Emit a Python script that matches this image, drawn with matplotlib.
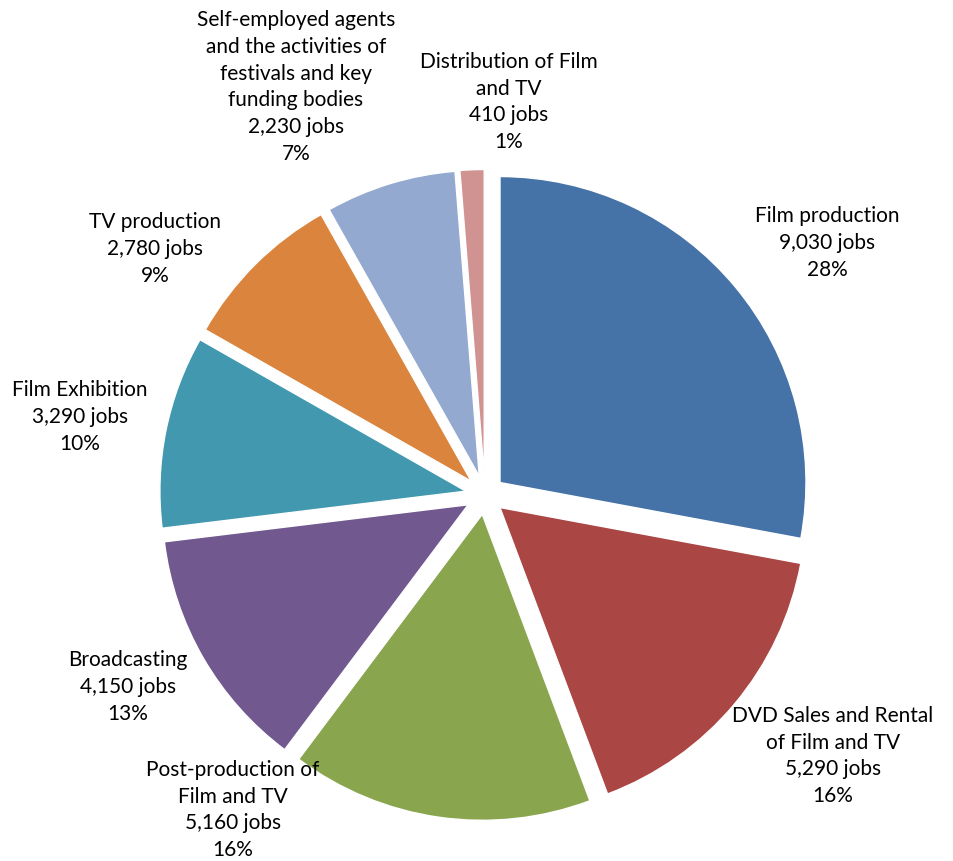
import matplotlib.pyplot as plt

# jobs by sub-sector, clockwise from 12 o'clock
sectors = ['Film production', 'DVD Sales and Rental\nof Film and TV', 'Post-production of\nFilm and TV',
           'Broadcasting', 'Film Exhibition', 'TV production',
           'Self-employed agents\nand the activities of\nfestivals and key\nfunding bodies',
           'Distribution of Film\nand TV']
jobs = [9030, 5290, 5160, 4150, 3290, 2780, 2230, 410]
colors = ['#4572A7', '#AA4643', '#89A54E', '#71588F', '#4198AF', '#DB843D', '#93A9CF', '#D19392']

# where each data label sits (axes units, pie radius ~ 1)
label_pos = [(1.14, 0.84), (1.16, -0.87), (-0.84, -1.05), (-1.19, -0.64), (-1.35, 0.26),
             (-1.10, 0.82), (-0.63, 1.36), (0.08, 1.31)]

plt.rcParams['font.family'] = ['Lato', 'DejaVu Sans']

fig = plt.figure(figsize=(9.54, 8.61), dpi=100)
ax = fig.add_axes([0, 0, 1, 1])

ax.pie(jobs, colors=colors, startangle=90, counterclock=False,
       explode=[0.065] * len(jobs), radius=1.02,
       wedgeprops=dict(edgecolor='white', linewidth=1))

total = sum(jobs)
for name, n, (x, y) in zip(sectors, jobs, label_pos):
    txt = f'{name}\n{n:,} jobs\n{round(100 * n / total)}%'
    ax.text(x, y, txt, ha='center', va='center', fontsize=15,
            linespacing=1.42, color='black')

# centre of pie at (485, 495) px, 300 px per unit
ax.set_xlim(-485 / 300, (954 - 485) / 300)
ax.set_ylim(-(861 - 495) / 300, 495 / 300)
ax.set_aspect('equal')
ax.axis('off')

fig.savefig('out.png', dpi=100)
